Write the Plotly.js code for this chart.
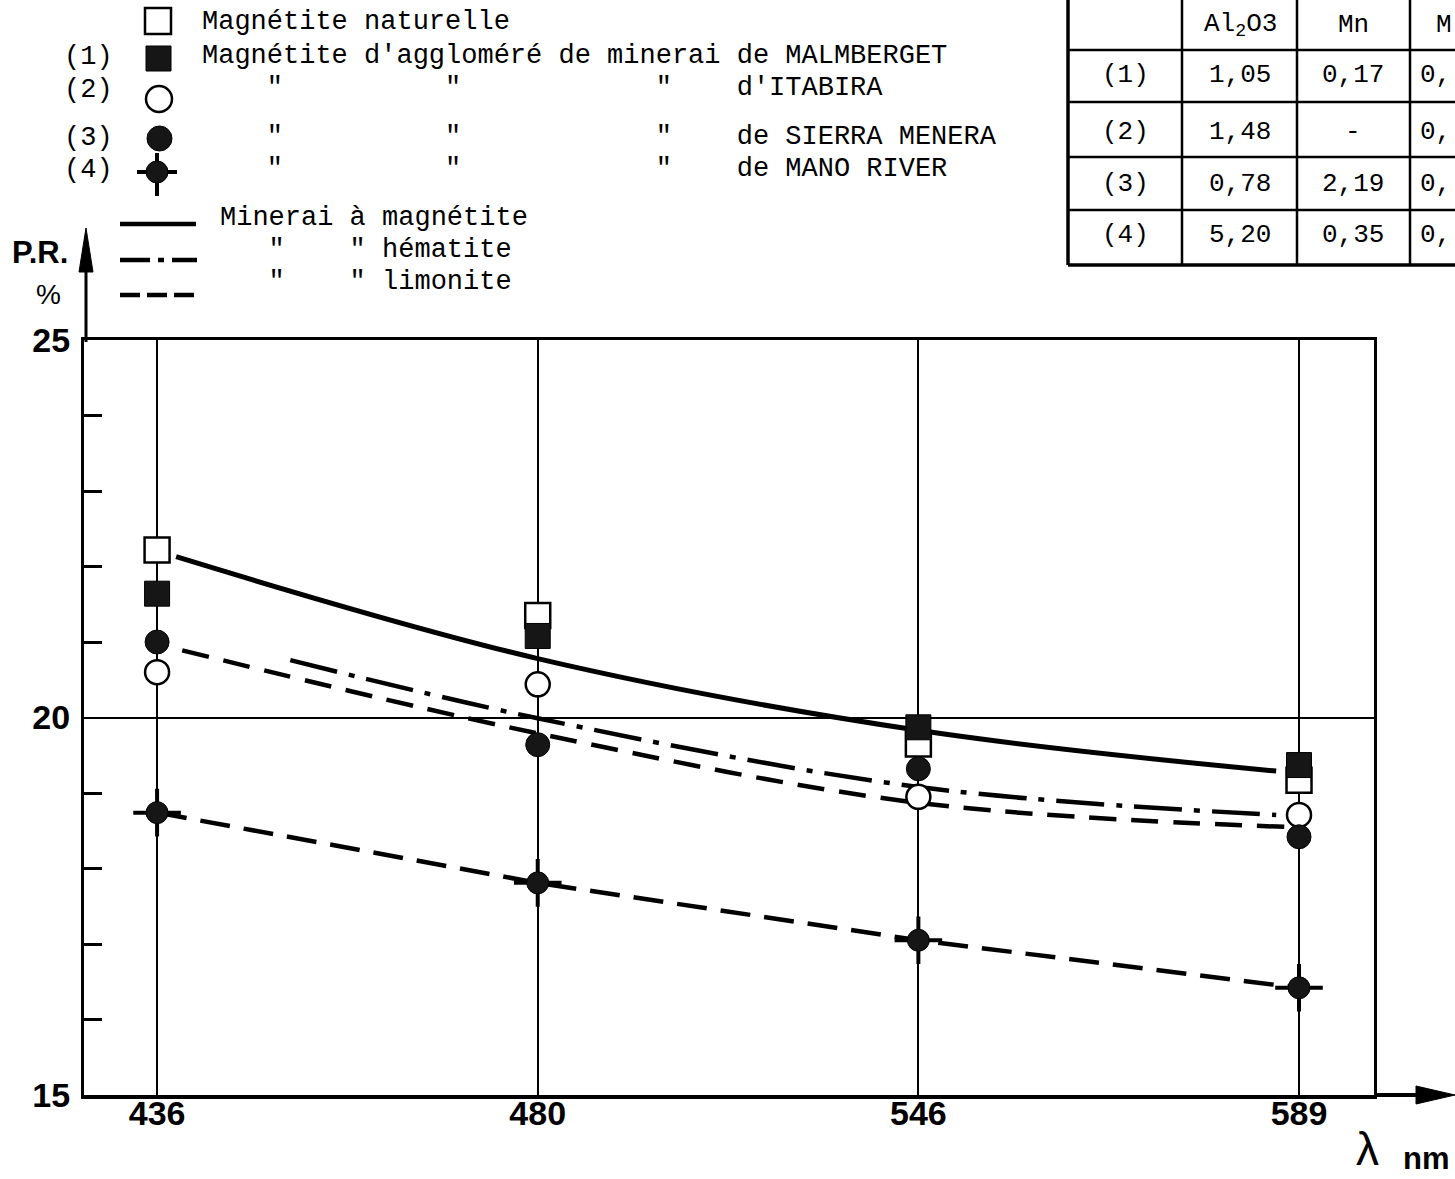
<!DOCTYPE html>
<html>
<head>
<meta charset="utf-8">
<script src="https://cdn.plot.ly/plotly-3.0.1.min.js"></script>
<style>html,body{margin:0;padding:0;background:#fff;}#chart{width:1455px;height:1179px;}</style>
</head>
<body>
<div id="chart"></div>
<script>
// ---- data ----
const wavelengths = ['436', '480', '546', '589'];
const wlIndex = [0, 1, 2, 3];
const naturelle  = [22.22, 21.35, 19.65, 19.17];
const malmberget = [21.64, 21.08, 19.87, 19.37];
const itabira    = [20.60, 20.44, 18.95, 18.71];
const sierra     = [21.00, 19.64, 19.32, 18.42];
const manoRiver  = [18.74, 17.81, 17.05, 16.42];
// reference curves (position on the wavelength scale, value)
const magnetiteX = [0.05, 1, 2, 2.94];
const magnetiteY = [22.13, 20.78, 19.83, 19.29];
const hematiteX  = [0.35, 1, 2, 2.94];
const hematiteY  = [20.76, 19.99, 19.08, 18.71];
const limoniteX  = [0.066, 1, 2, 2.97];
const limoniteY  = [20.89, 19.79, 18.87, 18.55];
const yTickVals  = [15, 20, 25];
const yMinorVals = [16, 17, 18, 19, 21, 22, 23, 24];
// composition table
const tableHeader = ['', 'Al<sub>2</sub>O3', 'Mn', 'M'];
const tableRows = [
  ['(1)', '1,05', '0,17', '0,'],
  ['(2)', '1,48', '-', '0,'],
  ['(3)', '0,78', '2,19', '0,'],
  ['(4)', '5,20', '0,35', '0,']
];

// ---- helpers (figure pixel -> paper) ----
const W = 1455, H = 1179;
const X = p => p / W;
const Y = p => 1 - p / H;
const NB = s => s.replace(/ /g, '\u00A0');
const MONO = 'Liberation Mono, DejaVu Sans Mono, monospace';
const SANS = 'Liberation Sans, Arial, sans-serif';

const traces = [
  {x: wlIndex, y: manoRiver, mode: 'lines', line: {color: '#000', width: 4.5, dash: '30px,14px'}, hoverinfo: 'skip'},
  {x: limoniteX, y: limoniteY, mode: 'lines', line: {color: '#000', width: 4.5, dash: '27px,15px', shape: 'spline'}, hoverinfo: 'skip'},
  {x: hematiteX, y: hematiteY, mode: 'lines', line: {color: '#000', width: 4.5, dash: '48px,12px,6px,12px', shape: 'spline'}, hoverinfo: 'skip'},
  {x: magnetiteX, y: magnetiteY, mode: 'lines', line: {color: '#000', width: 5, shape: 'spline'}, hoverinfo: 'skip'},
  {x: wlIndex, y: naturelle, mode: 'markers', marker: {symbol: 'square', size: 25, color: '#fff', line: {color: '#000', width: 2.5}}},
  {x: wlIndex, y: malmberget, mode: 'markers', marker: {symbol: 'square', size: 25, color: '#161616', line: {color: '#000', width: 1}}},
  {x: wlIndex, y: itabira, mode: 'markers', marker: {symbol: 'circle', size: 24, color: '#fff', line: {color: '#000', width: 2.5}}},
  {x: wlIndex, y: sierra, mode: 'markers', marker: {symbol: 'circle', size: 24, color: '#161616', line: {color: '#000', width: 1}}},
  {x: wlIndex, y: manoRiver, mode: 'markers', marker: {symbol: 'cross-thin-open', size: 34, color: '#000', line: {color: '#000', width: 4}}},
  {x: wlIndex, y: manoRiver, mode: 'markers', marker: {symbol: 'circle', size: 22, color: '#161616', line: {color: '#000', width: 1}}}
];

const shapes = [];
const annotations = [];
function line(x0, y0, x1, y1, w, dash) {
  shapes.push({type: 'line', xref: 'paper', yref: 'paper', x0: X(x0), y0: Y(y0), x1: X(x1), y1: Y(y1),
    line: {color: '#000', width: w, dash: dash || 'solid'}});
}
function tri(pts) {
  const d = 'M' + pts.map(p => X(p[0]) + ',' + Y(p[1])).join('L') + 'Z';
  shapes.push({type: 'path', xref: 'paper', yref: 'paper', path: d, fillcolor: '#000', line: {color: '#000', width: 1}});
}
function text(t, x, y, size, opts) {
  annotations.push(Object.assign({text: t, xref: 'paper', yref: 'paper', x: X(x), y: Y(y), showarrow: false,
    xanchor: 'left', yanchor: 'middle', font: {family: MONO, size: size, color: '#000'}}, opts || {}));
}

// axis arrows
line(86, 342, 86, 255, 3);
tri([[86, 228], [79, 272], [93, 272]]);
line(1374, 1095, 1425, 1095, 4);
tri([[1455, 1095], [1416, 1086], [1416, 1104]]);

// legend markers
shapes.push({type: 'rect', xref: 'paper', yref: 'paper', x0: X(145), x1: X(171), y0: Y(8), y1: Y(34), fillcolor: '#fff', line: {color: '#000', width: 2.5}});
shapes.push({type: 'rect', xref: 'paper', yref: 'paper', x0: X(146), x1: X(171), y0: Y(46), y1: Y(71), fillcolor: '#161616', line: {color: '#000', width: 1}});
shapes.push({type: 'circle', xref: 'paper', yref: 'paper', x0: X(146), x1: X(172), y0: Y(86), y1: Y(112), fillcolor: '#fff', line: {color: '#000', width: 2.5}});
shapes.push({type: 'circle', xref: 'paper', yref: 'paper', x0: X(147), x1: X(172), y0: Y(126), y1: Y(151), fillcolor: '#161616', line: {color: '#000', width: 1}});
line(137, 172, 177, 172, 4);
line(157, 153, 157, 196, 4);
shapes.push({type: 'circle', xref: 'paper', yref: 'paper', x0: X(146), x1: X(168), y0: Y(161), y1: Y(183), fillcolor: '#161616', line: {color: '#000', width: 1}});
// legend lines
line(120, 224, 196, 224, 4.5);
line(120, 260, 197, 260, 4.5, '30px,8px,6px,8px');
line(120, 295, 196, 295, 4.5, '20px,7px');

// legend texts
text(NB('Magnétite naturelle'), 200, 22, 27);
text(NB("Magnétite d'aggloméré de minerai de MALMBERGET"), 200, 56, 27);
text(NB('    "          "            "    d\'ITABIRA'), 200, 88, 27);
text(NB('    "          "            "    de SIERRA MENERA'), 200, 137, 27);
text(NB('    "          "            "    de MANO RIVER'), 200, 169, 27);
text('(1)', 62, 57, 27);
text('(2)', 62, 90, 27);
text('(3)', 62, 138, 27);
text('(4)', 62, 170, 27);
text(NB('Minerai à magnétite'), 218, 218, 27);
text(NB('   "    " hématite'), 218, 250, 27);
text(NB('   "    " limonite'), 218, 282, 27);

// axis titles
text('<b>P.R.</b>', 10, 252, 31, {font: {family: SANS, size: 31, color: '#000'}});
text('%', 48, 295, 28, {xanchor: 'center', font: {family: SANS, size: 28, color: '#000'}});
text('λ', 1367, 1149, 46, {xanchor: 'center', font: {family: SANS, size: 46, color: '#000'}});
text('<b>nm</b>', 1426, 1158, 31, {xanchor: 'center', font: {family: SANS, size: 31, color: '#000'}});

// table
const colX = [1068, 1182, 1297, 1410];
const rowY = [50, 102, 157, 210, 265];
colX.forEach((cx, i) => line(cx, 0, cx, 265, i === 0 ? 3.5 : 2.5));
rowY.forEach((ry, i) => line(1068, ry, 1455, ry, i === rowY.length - 1 ? 3.5 : 2.5));
const colCenters = [1125, 1240, 1353, 1434];
const rowCenters = [25, 75, 132, 184, 235];
tableHeader.forEach((t, j) => { if (t) text(t, colCenters[j], rowCenters[0], 26, {xanchor: j === 3 ? 'left' : 'center'}); });
tableRows.forEach((row, i) => row.forEach((t, j) => {
  text(t, j === 3 ? 1418 : colCenters[j], rowCenters[i + 1], 26, {xanchor: j === 3 ? 'left' : 'center'});
}));

const layout = {
  width: W, height: H,
  margin: {l: 0, r: 0, t: 0, b: 0},
  paper_bgcolor: '#fff', plot_bgcolor: '#fff',
  showlegend: false,
  xaxis: {
    domain: [84 / W, 1374 / W],
    range: [-0.192, 3.197],
    tickmode: 'array', tickvals: wlIndex, ticktext: wavelengths,
    showgrid: true, gridcolor: '#000', gridwidth: 2,
    zeroline: false, ticks: '',
    showline: true, linecolor: '#000', linewidth: 3.5, mirror: true,
    tickfont: {family: SANS, size: 34, color: '#000', weight: 'bold'},
    ticklabelstandoff: -14
  },
  yaxis: {
    domain: [(H - 1095) / H, (H - 340) / H],
    range: [15, 25],
    tickmode: 'array', tickvals: yTickVals, ticktext: yTickVals.map(String),
    showgrid: true, gridcolor: '#000', gridwidth: 2,
    zeroline: false, ticks: '',
    showline: true, linecolor: '#000', linewidth: 3, mirror: true,
    tickfont: {family: SANS, size: 34, color: '#000', weight: 'bold'},
    ticklabelstandoff: 4,
    minor: {tickmode: 'array', tickvals: yMinorVals, ticks: 'inside', ticklen: 18, tickwidth: 3, tickcolor: '#000', showgrid: false}
  },
  shapes: shapes,
  annotations: annotations
};

Plotly.newPlot('chart', traces, layout, {displayModeBar: false, staticPlot: true});
</script>
</body>
</html>
